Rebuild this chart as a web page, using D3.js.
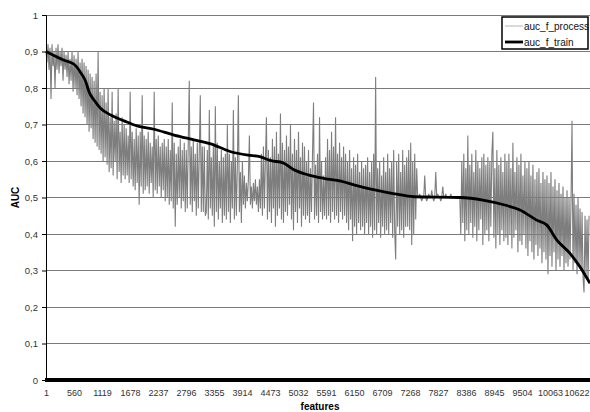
<!DOCTYPE html>
<html>
<head>
<meta charset="utf-8">
<script src="https://cdn.jsdelivr.net/npm/d3@7"></script>
<style>
  body { margin: 0; background: #fff; }
  svg { display: block; font-family: Arial, "Liberation Sans", sans-serif; }
</style>
</head>
<body>
<svg id="chart" width="590" height="412"></svg>
<script>
// Category axis: one label every 559 features
var xTickLabels = [1, 560, 1119, 1678, 2237, 2796, 3355, 3914, 4473, 5032, 5591,
    6150, 6709, 7268, 7827, 8386, 8945, 9504, 10063, 10622];
var yTicks = [0, 0.1, 0.2, 0.3, 0.4, 0.5, 0.6, 0.7, 0.8, 0.9, 1];
var seriesNames = ['auc_f_process', 'auc_f_train'];

// auc_f_train
var trainFeature = [1, 360, 560, 694, 793, 859, 959, 1093, 1292, 1558, 1817, 2157, 2556,
    2955, 3289, 3674, 4033, 4267, 4492, 4732, 4965, 5231, 5564, 5889, 6163, 6562, 6961,
    7346, 8265, 8724, 9197, 9462, 9795, 9995, 10195, 10460, 10660, 10860];
var trainAuc = [0.900, 0.876, 0.865, 0.842, 0.818, 0.790, 0.767, 0.744, 0.726, 0.710, 0.696,
    0.687, 0.671, 0.658, 0.647, 0.626, 0.616, 0.612, 0.601, 0.595, 0.575, 0.562, 0.552,
    0.545, 0.534, 0.521, 0.510, 0.502, 0.500, 0.493, 0.478, 0.466, 0.438, 0.425, 0.384,
    0.347, 0.310, 0.265];

// auc_f_process, one reading every 20 features (feature 1, 21, 41, ...)
var processStep = 20;
var processAuc = [
    0.90,0.87,0.92,0.85,0.91,0.77,0.92,0.86,0.90,0.80,0.91,0.85,0.92,0.84,0.90,0.86,0.91,0.82,0.90,0.85,
    0.89,0.83,0.90,0.81,0.88,0.82,0.90,0.79,0.89,0.80,0.88,0.78,0.90,0.77,0.87,0.75,0.88,0.73,0.87,0.72,
    0.86,0.70,0.85,0.68,0.84,0.69,0.83,0.66,0.82,0.65,0.84,0.64,0.90,0.63,0.79,0.62,0.78,0.60,0.80,0.61,
    0.76,0.59,0.80,0.57,0.72,0.58,0.79,0.56,0.71,0.60,0.73,0.55,0.80,0.57,0.68,0.54,0.72,0.56,0.70,0.55,
    0.69,0.56,0.67,0.54,0.79,0.55,0.68,0.53,0.66,0.52,0.69,0.54,0.67,0.48,0.68,0.53,0.78,0.51,0.67,0.52,
    0.66,0.53,0.68,0.51,0.65,0.54,0.64,0.50,0.79,0.52,0.66,0.51,0.67,0.53,0.64,0.50,0.65,0.52,0.66,0.49,
    0.64,0.50,0.66,0.48,0.63,0.49,0.76,0.47,0.65,0.42,0.62,0.48,0.64,0.50,0.66,0.47,0.63,0.49,0.65,0.46,
    0.63,0.47,0.65,0.82,0.48,0.64,0.46,0.66,0.49,0.62,0.45,0.65,0.47,0.63,0.78,0.46,0.64,0.46,0.64,0.45,
    0.46,0.63,0.44,0.74,0.47,0.61,0.45,0.64,0.42,0.75,0.46,0.65,0.44,0.60,0.47,0.63,0.43,0.61,0.45,0.62,
    0.44,0.70,0.46,0.62,0.43,0.60,0.47,0.74,0.44,0.61,0.45,0.59,0.78,0.46,0.57,0.43,0.60,0.48,0.56,0.47,
    0.54,0.49,0.55,0.67,0.48,0.53,0.47,0.54,0.49,0.55,0.48,0.53,0.46,0.55,0.47,0.62,0.45,0.64,0.47,0.60,
    0.72,0.44,0.63,0.46,0.61,0.43,0.66,0.47,0.64,0.42,0.68,0.45,0.62,0.47,0.73,0.44,0.65,0.43,0.63,0.46,
    0.67,0.45,0.64,0.48,0.70,0.44,0.62,0.41,0.66,0.46,0.63,0.43,0.68,0.47,0.61,0.42,0.65,0.45,0.64,0.44,
    0.60,0.45,0.63,0.43,0.58,0.46,0.62,0.76,0.44,0.59,0.45,0.62,0.43,0.72,0.46,0.60,0.44,0.56,0.45,0.61,
    0.44,0.66,0.45,0.63,0.43,0.68,0.46,0.64,0.44,0.72,0.45,0.62,0.43,0.65,0.46,0.61,0.44,0.64,0.45,0.62,
    0.43,0.60,0.41,0.63,0.44,0.58,0.38,0.61,0.42,0.59,0.40,0.62,0.43,0.57,0.41,0.60,0.42,0.58,0.40,0.59,
    0.43,0.61,0.40,0.57,0.42,0.60,0.39,0.62,0.41,0.83,0.40,0.58,0.43,0.60,0.39,0.56,0.42,0.61,0.40,0.57,
    0.41,0.62,0.40,0.58,0.43,0.60,0.39,0.63,0.41,0.33,0.60,0.42,0.62,0.40,0.57,0.41,0.63,0.39,0.59,0.42,
    0.61,0.42,0.63,0.41,0.65,0.37,0.60,0.40,0.62,0.44,0.58,0.50,0.50,0.51,0.50,0.49,0.50,0.50,0.56,0.50,
    0.49,0.50,0.51,0.50,0.50,0.52,0.50,0.49,0.50,0.57,0.50,0.51,0.50,0.50,0.49,0.50,0.53,0.50,0.50,0.51,
    0.50,0.50,0.50,0.50,0.51,0.50,0.50,0.50,0.50,0.50,0.50,0.50,0.50,0.50,0.40,0.60,0.43,0.62,0.38,0.58,
    0.41,0.67,0.40,0.59,0.43,0.62,0.39,0.57,0.42,0.63,0.38,0.60,0.41,0.58,0.44,0.61,0.37,0.62,0.40,0.59,
    0.41,0.61,0.38,0.60,0.42,0.62,0.68,0.39,0.58,0.36,0.63,0.40,0.59,0.37,0.61,0.41,0.57,0.38,0.62,0.39,
    0.60,0.37,0.62,0.40,0.58,0.36,0.65,0.39,0.57,0.41,0.61,0.35,0.59,0.38,0.62,0.37,0.56,0.40,0.60,0.36,
    0.58,0.34,0.60,0.38,0.56,0.35,0.59,0.33,0.55,0.37,0.57,0.34,0.58,0.36,0.54,0.32,0.57,0.35,0.55,0.33,
    0.56,0.29,0.54,0.34,0.57,0.31,0.53,0.35,0.55,0.30,0.52,0.33,0.54,0.31,0.51,0.34,0.53,0.30,0.50,0.32,
    0.52,0.31,0.50,0.33,0.49,0.71,0.30,0.51,0.32,0.48,0.29,0.50,0.31,0.47,0.30,0.46,0.28,0.24,0.45,0.29,
    0.44,0.27,0.45
];

var margin = { left: 46, top: 15, right: 0, bottom: 32 };
var width = 590, height = 412;
var svg = d3.select('#chart');

var x = d3.scaleLinear().domain([1, 10860]).range([margin.left, width - margin.right]);
var y = d3.scaleLinear().domain([0, 1]).range([height - margin.bottom, margin.top]);

// Horizontal gridlines
svg.append('g').selectAll('line').data(yTicks.slice(1)).enter().append('line')
    .attr('x1', x(1)).attr('x2', width)
    .attr('y1', function(d) { return y(d); }).attr('y2', function(d) { return y(d); })
    .attr('stroke', '#7a7a7a').attr('stroke-width', 1)
    .attr('shape-rendering', 'crispEdges');

// Noisy process series
var processData = processAuc.map(function(v, i) { return { f: 1 + i * processStep, v: v }; });
svg.append('path').datum(processData)
    .attr('fill', 'none').attr('stroke', '#7e7e7e').attr('stroke-width', 1.1)
    .attr('stroke-linejoin', 'miter').attr('stroke-miterlimit', 1.5)
    .attr('d', d3.line().x(function(d) { return x(d.f); }).y(function(d) { return y(d.v); }));

// Smooth train series
var trainData = trainFeature.map(function(f, i) { return { f: f, v: trainAuc[i] }; });
svg.append('path').datum(trainData)
    .attr('fill', 'none').attr('stroke', '#000').attr('stroke-width', 2.8)
    .attr('stroke-linejoin', 'round')
    .attr('d', d3.line().curve(d3.curveMonotoneX)
        .x(function(d) { return x(d.f); }).y(function(d) { return y(d.v); }));

// Y axis
var yAxis = d3.axisLeft(y).tickValues(yTicks).tickSize(4).tickPadding(4)
    .tickFormat(function(d) { return d3.format('.1~f')(d).replace('.', ','); });
var gy = svg.append('g').attr('transform', 'translate(' + margin.left + ',0)').call(yAxis);
gy.select('.domain').attr('stroke', '#000');
gy.selectAll('.tick line').attr('stroke', '#000');
gy.selectAll('text').attr('font-size', 9.5).attr('fill', '#333')
    .attr('font-family', 'Arial, "Liberation Sans", sans-serif');

// X axis (thick zero line, labels below)
var xAxis = d3.axisBottom(x).tickValues(xTickLabels).tickSize(0).tickPadding(10)
    .tickFormat(d3.format('d'));
var gx = svg.append('g').attr('transform', 'translate(0,' + y(0) + ')').call(xAxis);
gx.select('.domain').remove();
gx.selectAll('text').attr('font-size', 9).attr('fill', '#333')
    .attr('font-family', 'Arial, "Liberation Sans", sans-serif')
    .attr('dx', function(d, i) { return i === xTickLabels.length - 1 ? -1.5 : 0; });
svg.append('line')
    .attr('x1', x(1) - 1).attr('x2', width)
    .attr('y1', y(0)).attr('y2', y(0))
    .attr('stroke', '#000').attr('stroke-width', 4);

// Axis titles
svg.append('text')
    .attr('transform', 'translate(19,' + y(0.5) + ') rotate(-90)')
    .attr('text-anchor', 'middle')
    .attr('font-size', 10).attr('font-weight', 'bold')
    .text('AUC');
svg.append('text')
    .attr('x', 320).attr('y', 410)
    .attr('text-anchor', 'middle')
    .attr('font-size', 10).attr('font-weight', 'bold')
    .text('features');

// Legend
var legend = svg.append('g').attr('transform', 'translate(502,17)');
legend.append('rect').attr('x', 0).attr('y', 0).attr('width', 86).attr('height', 32)
    .attr('fill', '#fff').attr('stroke', '#000').attr('stroke-width', 1.5);
var legendStyle = [{ c: '#b5b5b5', w: 1 }, { c: '#000', w: 2.8 }];
seriesNames.forEach(function(name, i) {
    var ly = 9 + i * 16;
    legend.append('line').attr('x1', 3).attr('x2', 21).attr('y1', ly).attr('y2', ly)
        .attr('stroke', legendStyle[i].c).attr('stroke-width', legendStyle[i].w);
    legend.append('text').attr('x', 22).attr('y', ly + 3.5)
        .attr('font-size', 10).attr('fill', '#111').text(name);
});
</script>
</body>
</html>
